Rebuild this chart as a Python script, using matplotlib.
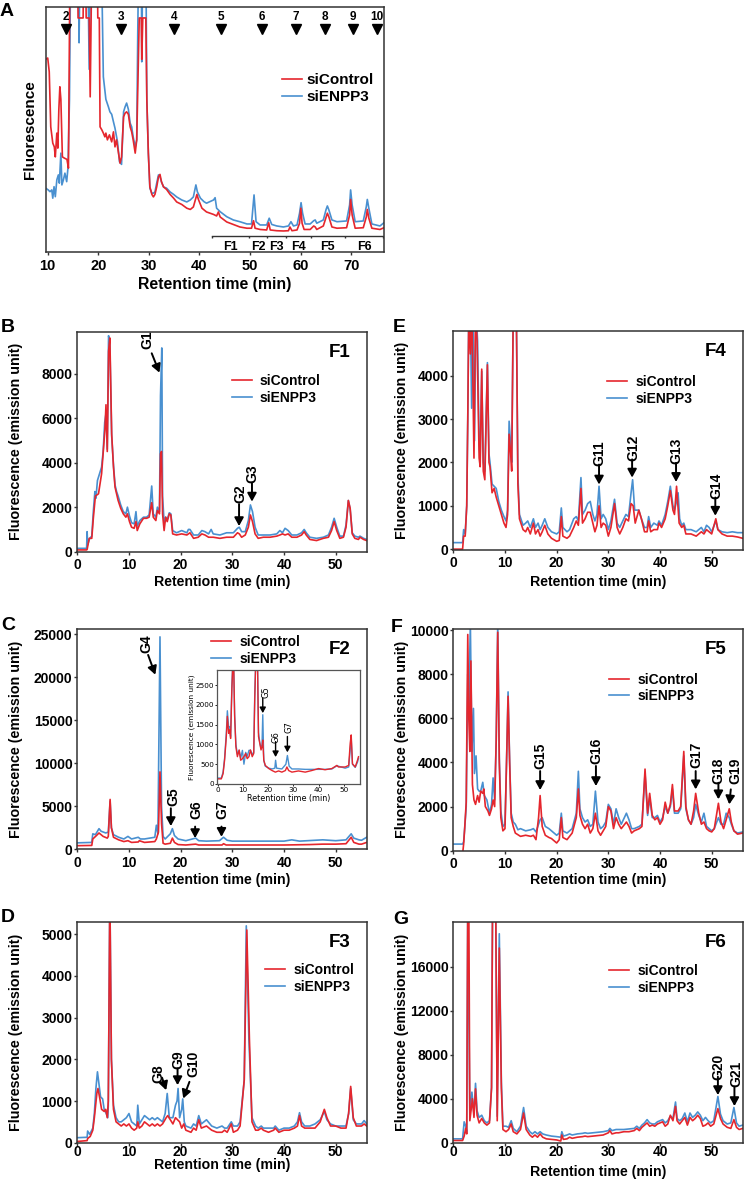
import numpy as np
import matplotlib
matplotlib.use('Agg')
import matplotlib.pyplot as plt

plt.rcParams['font.family'] = ['Liberation Sans', 'DejaVu Sans']
plt.rcParams['font.weight'] = 'bold'

RED = '#e5262d'
BLUE = '#4990d0'

# ---------------- A: whole run (arbitrary fluorescence) ----------------
A_CONTROL = [
    (9.6, 77), (10.0, 77.5), (10.3, 72), (10.6, 50), (11.0, 43.5), (11.3, 42), (11.5, 38),
    (11.8, 47.5), (12.0, 41.5), (12.2, 57), (12.4, 66), (12.6, 61), (12.9, 38), (13.3, 37.5),
    (13.8, 37), (14.1, 33.5), (14.3, 87), (14.4, 120), (15.9, 120), (16.0, 93.5), (17.0, 93.5),
    (17.1, 120), (17.5, 120), (17.6, 93.5), (18.2, 93.5), (18.4, 62), (18.6, 93.5), (18.7, 120),
    (19.8, 120), (19.9, 93.5), (20.2, 93.5), (20.35, 50), (20.7, 48.8), (21.0, 47.5), (21.3, 46),
    (21.5, 47.5), (21.8, 44.8), (22.2, 46.8), (22.65, 44), (23.0, 48), (23.3, 42), (23.6, 44.8),
    (24.0, 39.5), (24.3, 35.5), (24.6, 38), (25.0, 54), (25.3, 55.5), (25.6, 56), (25.95, 55),
    (26.3, 50), (26.6, 48), (26.9, 44.8), (27.3, 39.5), (27.6, 44.8), (27.9, 74), (28.1, 93.5),
    (28.5, 93.5), (28.6, 77), (28.8, 93.5), (29.4, 93.5), (29.6, 60.8), (29.9, 39.5), (30.2, 26),
    (30.6, 23), (30.9, 22), (31.2, 23), (31.55, 26), (31.9, 30), (32.2, 31), (32.5, 28),
    (32.9, 26), (33.5, 25), (34.2, 23), (34.9, 21.5), (35.5, 20), (36.5, 19), (37.5, 17.5),
    (38.2, 17), (38.8, 18), (39.5, 23), (39.8, 21), (40.5, 17.5), (41.4, 16), (42.8, 15),
    (43.4, 14.4), (43.75, 16), (44.1, 14), (45.4, 12), (46.7, 11), (48.0, 10), (49.4, 9.5),
    (50.3, 9.5), (50.7, 12.5), (51.0, 9.5), (52.0, 9), (53.3, 8.8), (53.7, 11.7), (54.0, 8.8),
    (55.3, 8.5), (56.6, 8.4), (57.6, 8.5), (57.9, 10), (58.3, 8.5), (59.3, 8.8), (59.8, 11.5),
    (60.05, 17.5), (60.3, 11.5), (60.7, 9), (61.9, 9), (62.6, 10.4), (62.9, 10), (63.2, 9),
    (64.5, 10.4), (65.05, 14), (65.3, 15.5), (65.6, 14), (66.2, 10), (67.2, 9.5), (69.1, 9.7),
    (69.7, 14.8), (69.9, 21), (70.2, 14.8), (70.8, 9.5), (72.4, 9.7), (73.0, 14), (73.2, 17),
    (73.5, 13.5), (74.1, 9.5), (75.7, 9), (76.5, 9.7)]
A_ENPP3 = [
    (9.6, 25.5), (10.1, 24.8), (10.45, 24.1), (10.8, 24.8), (11.0, 21.5), (11.25, 26.1),
    (11.5, 22.1), (11.8, 28.8), (12.1, 30.8), (12.3, 27.5), (12.6, 39.5), (12.8, 26.8),
    (13.1, 28.8), (13.4, 31.5), (13.75, 28.1), (14.0, 33.5), (14.3, 60.8), (14.55, 120),
    (16.0, 120), (16.2, 83.6), (16.4, 120), (17.9, 120), (18.2, 73), (18.5, 120), (20.6, 120),
    (21.0, 70), (21.5, 61), (22.0, 58), (22.3, 56), (22.65, 55), (23.0, 52), (23.3, 49.5),
    (23.8, 44), (24.2, 36), (24.6, 35), (25.0, 56), (25.3, 58), (25.6, 59.5), (25.95, 57),
    (26.3, 51.5), (26.6, 50), (26.9, 46), (27.3, 42), (27.6, 44.8), (27.8, 87), (28.0, 120),
    (28.5, 120), (28.6, 76), (28.8, 120), (29.4, 120), (29.6, 60.8), (29.9, 39.5), (30.2, 25.5),
    (30.6, 23.5), (30.9, 23.5), (31.2, 24), (31.55, 27.5), (31.9, 30.8), (32.2, 30), (32.5, 28),
    (32.9, 26), (33.5, 25.5), (34.2, 24), (34.9, 23), (35.5, 22), (36.5, 20.8), (37.5, 20),
    (38.2, 20.8), (38.8, 22), (39.3, 26.8), (39.6, 24), (40.2, 21.5), (40.9, 20.1), (41.4, 19.5),
    (42.8, 20.8), (43.1, 21.7), (43.4, 17.5), (44.1, 16.1), (45.4, 14.1), (46.7, 12.8),
    (48.0, 12.1), (49.4, 11.2), (50.3, 11.2), (50.8, 22.8), (51.2, 12.1), (52.0, 10.8),
    (53.3, 10.8), (53.8, 13.5), (54.3, 11), (55.3, 10.4), (56.6, 10), (57.6, 10.4), (58.1, 12.1),
    (58.6, 10.4), (59.3, 10.8), (59.8, 15.5), (60.1, 19.7), (60.4, 15.5), (60.9, 11.2),
    (61.9, 11.2), (62.6, 12.5), (62.9, 12.8), (63.2, 11.5), (64.5, 12.8), (65.05, 17),
    (65.3, 18.4), (65.6, 16.8), (66.2, 12.8), (67.2, 12.1), (69.1, 12.4), (69.7, 18.8),
    (69.9, 24.8), (70.2, 18.8), (70.8, 12.1), (72.4, 12.4), (73.0, 18.1), (73.2, 21),
    (73.5, 17.5), (74.1, 11.2), (75.7, 10.4), (76.5, 11.7)]
A_MARKS = [13.6, 24.4, 35.0, 44.3, 52.3, 59.0, 64.9, 70.4, 75.1]
A_MARK_LABELS = ['2', '3', '4', '5', '6', '7', '8', '9', '10']
A_FRACTION_EDGES = [42.4, 49.9, 53.3, 57.1, 62.0, 68.8, 76.3]
A_FRACTION_LABELS = ['F1', 'F2', 'F3', 'F4', 'F5', 'F6']

# ---------------- B: F1 ----------------
F1_CONTROL = [
    (0, 80), (1.8, 80), (1.9, 100), (2.3, 600), (2.8, 600), (3.1, 1500), (3.5, 2500), (4.1, 2600),
    (4.7, 3500), (5.35, 5500), (5.55, 6600), (5.8, 4500), (6.05, 9000), (6.3, 9600), (6.65, 5300),
    (7.0, 3800), (7.3, 2900), (7.6, 2600), (7.9, 2300), (8.4, 1950), (8.9, 1700), (9.4, 1550),
    (9.7, 1700), (10.1, 1350), (10.5, 1100), (11.0, 1050), (11.35, 1350), (11.6, 950),
    (12.1, 1250), (12.8, 1500), (13.4, 1500), (13.9, 1550), (14.4, 2200), (14.7, 1550),
    (15.2, 1400), (15.5, 1850), (15.9, 1700), (16.1, 4400), (16.3, 4500), (16.5, 1700),
    (16.8, 950), (17.1, 1550), (17.4, 1350), (17.8, 1700), (18.1, 1650), (18.45, 800),
    (19.2, 750), (20.2, 800), (21.2, 750), (21.8, 850), (22.5, 600), (23.4, 650), (24.1, 800),
    (24.7, 750), (25.4, 650), (26.3, 650), (27.6, 600), (28.9, 650), (30.2, 650), (31.0, 850),
    (31.35, 800), (31.8, 650), (32.5, 750), (33.1, 1100), (33.5, 1650), (33.9, 1350), (34.4, 800),
    (35.0, 600), (36.0, 650), (37.3, 650), (38.6, 700), (39.2, 750), (39.7, 800), (40.2, 750),
    (40.8, 800), (41.5, 650), (42.5, 650), (43.4, 750), (43.9, 900), (44.3, 750), (45.0, 550),
    (46.3, 500), (47.6, 600), (48.6, 650), (49.2, 950), (49.7, 1350), (50.2, 950), (50.8, 600),
    (51.5, 650), (52.0, 1100), (52.45, 2300), (52.8, 1950), (53.2, 800), (53.7, 600), (54.4, 550),
    (54.7, 650), (55.4, 550), (56.0, 500)]
F1_ENPP3 = [
    (0, 150), (1.8, 150), (1.9, 900), (2.0, 300), (2.4, 600), (2.8, 700), (3.1, 1800), (3.4, 2700),
    (3.6, 2400), (3.9, 3200), (4.3, 3500), (4.7, 3800), (5.0, 4500), (5.3, 5800), (5.55, 6200),
    (5.8, 4600), (6.05, 9700), (6.3, 9300), (6.65, 5200), (7.0, 3900), (7.3, 3000), (7.6, 2700),
    (7.9, 2500), (8.4, 2100), (8.9, 1800), (9.4, 1700), (9.7, 2000), (10.1, 1600), (10.5, 1300),
    (11.0, 1250), (11.35, 1800), (11.6, 1150), (12.1, 1400), (12.8, 1550), (13.4, 1550),
    (13.9, 1650), (14.4, 2950), (14.7, 1700), (15.2, 1550), (15.5, 2000), (15.9, 1800),
    (16.1, 7000), (16.35, 9150), (16.5, 2500), (16.8, 1300), (17.1, 1550), (17.4, 1450),
    (17.8, 1750), (18.1, 1700), (18.45, 950), (19.2, 850), (20.2, 950), (21.2, 850), (21.5, 1000),
    (21.8, 1000), (22.5, 750), (23.4, 750), (24.1, 950), (24.7, 900), (25.4, 800), (25.9, 1000),
    (26.3, 800), (27.6, 750), (28.9, 850), (30.2, 850), (31.0, 1050), (31.35, 1100), (31.8, 900),
    (32.5, 900), (33.1, 1400), (33.5, 2100), (33.9, 1800), (34.4, 1100), (35.0, 750), (36.0, 750),
    (37.3, 750), (38.6, 800), (39.2, 950), (39.7, 850), (40.2, 1050), (40.8, 950), (41.5, 750),
    (42.5, 750), (43.4, 850), (43.9, 1000), (44.3, 850), (45.0, 650), (46.3, 600), (47.6, 650),
    (48.6, 750), (49.2, 1100), (49.7, 1500), (50.2, 1100), (50.8, 700), (51.5, 700), (52.0, 1200),
    (52.45, 2300), (52.8, 1900), (53.2, 850), (53.7, 700), (54.4, 650), (54.7, 700), (55.4, 600),
    (56.0, 550)]

# ---------------- C: F2 (main + inset) ----------------
F2_CONTROL = [
    (0, 420), (2.8, 450), (3.0, 1200), (3.7, 1600), (4.2, 1900), (5.0, 1500), (5.8, 1300),
    (6.0, 1500), (6.35, 5800), (6.6, 2500), (7.0, 1400), (8.0, 1100), (9.0, 900), (9.8, 1000),
    (10.5, 800), (11.8, 850), (12.0, 1000), (13.0, 800), (14.0, 850), (15.0, 900), (15.3, 1200),
    (15.7, 2000), (16.0, 9000), (16.3, 3000), (16.6, 700), (17.0, 600), (18.0, 700), (18.4, 1300),
    (18.8, 800), (19.5, 550), (21.0, 500), (22.9, 600), (23.5, 500), (25.0, 500), (28.0, 500),
    (28.3, 650), (28.8, 500), (30.0, 500), (35.0, 500), (40.0, 500), (45.0, 550), (47.5, 600),
    (50.0, 600), (52.0, 650), (53.0, 1400), (53.5, 800), (54.5, 600), (55.0, 600), (56.0, 800)]
F2_ENPP3 = [
    (0, 750), (2.8, 800), (3.0, 1800), (3.5, 1700), (4.2, 2400), (4.6, 2100), (5.5, 1900),
    (6.0, 2000), (6.35, 5600), (6.6, 2500), (7.0, 1700), (8.0, 1400), (9.0, 1200), (9.8, 1500),
    (10.5, 1200), (11.8, 1400), (12.2, 1200), (13.0, 1200), (14.0, 1300), (15.0, 1400),
    (15.3, 2800), (15.6, 1800), (16.0, 24700), (16.3, 5000), (16.6, 1500), (17.0, 1200),
    (18.0, 1800), (18.4, 2400), (18.8, 1600), (19.5, 1200), (21.0, 1000), (22.9, 1300),
    (23.5, 1000), (25.0, 950), (27.5, 1000), (28.3, 1400), (29.0, 1050), (30.0, 950), (35.0, 950),
    (40.0, 950), (41.5, 1100), (43.0, 950), (47.5, 1100), (50.0, 1000), (52.0, 1100), (53.0, 1800),
    (53.5, 1300), (54.5, 1100), (55.0, 1050), (56.0, 1400)]
F2_INSET_CONTROL = [
    (0.0, 130), (1.3, 130), (2.0, 260), (2.6, 600), (3.3, 1200), (3.7, 1710), (4.2, 1280),
    (4.6, 1370), (5.0, 1150), (5.5, 2390), (5.9, 3100), (6.2, 3100), (6.6, 1710), (7.1, 940),
    (7.7, 690), (8.4, 860), (9.0, 600), (9.7, 640), (10.3, 690), (11.0, 770), (11.6, 640),
    (12.3, 690), (12.9, 860), (13.6, 690), (14.2, 770), (14.6, 2130), (15.0, 3100), (15.7, 3100),
    (16.1, 1200), (16.6, 1030), (17.1, 860), (17.5, 940), (17.8, 1110), (18.2, 600), (18.8, 470),
    (20.2, 390), (21.5, 340), (22.8, 300), (24.1, 330), (25.4, 300), (26.8, 340), (27.4, 430),
    (28.1, 340), (29.4, 300), (32.0, 330), (34.7, 300), (37.3, 340), (40.0, 390), (42.6, 360),
    (45.3, 390), (47.3, 470), (47.9, 430), (50.6, 430), (52.0, 470), (52.6, 1030), (53.0, 1240),
    (53.5, 510), (54.6, 430), (55.5, 600), (55.9, 690)]
F2_INSET_ENPP3 = [
    (0.0, 150), (1.3, 150), (2.0, 300), (2.6, 650), (3.3, 1300), (3.7, 1850), (4.2, 1450),
    (4.6, 1450), (5.0, 1200), (5.5, 2500), (5.9, 3100), (6.2, 3100), (6.6, 1750), (7.1, 1000),
    (7.7, 750), (8.4, 850), (9.0, 650), (9.7, 850), (10.3, 500), (11.0, 800), (11.6, 700),
    (12.3, 850), (12.9, 850), (13.6, 750), (14.2, 800), (14.6, 2250), (15.0, 3100), (15.7, 3100),
    (16.1, 1300), (16.6, 1050), (17.1, 900), (17.5, 1000), (17.8, 1750), (18.2, 600), (18.8, 450),
    (20.2, 400), (21.5, 380), (22.6, 400), (22.9, 600), (23.3, 400), (25.4, 380), (27.0, 500),
    (27.6, 720), (28.3, 450), (29.4, 380), (32.0, 380), (34.7, 370), (37.3, 370), (40.0, 370),
    (42.6, 370), (45.3, 380), (47.3, 460), (50.6, 400), (52.0, 430), (53.0, 1150), (53.5, 500),
    (54.6, 420), (55.5, 550), (55.9, 650)]

# ---------------- D: F3 ----------------
F3_CONTROL = [
    (0, 30), (1.9, 50), (2.0, 100), (2.5, 150), (3.0, 300), (3.3, 600), (3.8, 1200), (4.0, 1300),
    (4.3, 1100), (4.7, 800), (5.2, 750), (5.5, 800), (5.8, 600), (6.0, 1000), (6.3, 6000),
    (6.6, 2000), (7.0, 800), (7.5, 500), (8.0, 450), (8.5, 400), (9.0, 450), (9.5, 400),
    (10.0, 450), (10.5, 350), (11.0, 300), (11.5, 350), (11.7, 500), (12.0, 350), (12.5, 400),
    (13.0, 500), (13.5, 450), (14.0, 400), (14.5, 450), (15.0, 400), (15.5, 450), (16.0, 400),
    (16.5, 450), (17.2, 600), (17.5, 650), (18.0, 550), (18.5, 450), (19.0, 600), (19.4, 550),
    (19.8, 500), (20.2, 350), (20.6, 450), (21.0, 300), (22.0, 250), (22.5, 350), (23.0, 300),
    (23.5, 550), (24.0, 350), (25.0, 400), (26.0, 300), (27.0, 250), (28.0, 250), (28.5, 300),
    (29.0, 250), (29.8, 450), (30.2, 250), (31.0, 300), (31.5, 400), (32.3, 1500), (32.8, 5100),
    (33.3, 2500), (33.8, 500), (34.5, 300), (35.0, 300), (35.6, 350), (36.0, 300), (37.0, 250),
    (38.0, 300), (38.3, 350), (39.0, 250), (40.0, 300), (41.0, 300), (42.0, 350), (42.6, 400),
    (43.0, 650), (43.4, 400), (44.0, 350), (45.0, 350), (46.0, 350), (47.0, 500), (47.8, 800),
    (48.3, 600), (49.0, 400), (50.0, 400), (51.0, 350), (52.0, 350), (52.5, 700), (52.9, 1350),
    (53.4, 600), (54.0, 400), (55.0, 400), (55.5, 450), (56.0, 400)]
F3_ENPP3 = [
    (0, 120), (1.9, 130), (2.0, 280), (2.4, 200), (3.0, 350), (3.3, 700), (3.6, 1300), (3.9, 1700),
    (4.2, 1400), (4.5, 1100), (4.9, 1050), (5.2, 800), (5.6, 700), (5.9, 600), (6.0, 900),
    (6.3, 6000), (6.6, 2000), (7.0, 900), (7.5, 600), (8.0, 500), (8.5, 500), (9.0, 550),
    (9.5, 600), (10.0, 700), (10.5, 500), (11.0, 450), (11.5, 400), (11.7, 900), (12.0, 450),
    (12.5, 550), (13.0, 650), (13.5, 600), (14.0, 550), (14.5, 600), (15.0, 550), (15.5, 600),
    (16.0, 550), (16.5, 500), (17.0, 700), (17.4, 1180), (17.8, 600), (18.5, 600), (19.0, 900),
    (19.3, 1000), (19.5, 1300), (19.8, 600), (20.2, 800), (20.4, 1050), (20.7, 500), (21.0, 400),
    (22.0, 350), (22.5, 450), (23.0, 400), (23.5, 650), (24.0, 450), (25.0, 550), (26.0, 400),
    (27.0, 350), (28.0, 400), (28.5, 350), (29.0, 350), (29.8, 500), (30.2, 400), (31.0, 400),
    (31.5, 500), (32.3, 1500), (32.7, 5200), (33.2, 2500), (33.8, 600), (34.5, 400), (35.0, 350),
    (35.6, 400), (36.0, 350), (37.0, 350), (38.0, 350), (38.3, 400), (39.0, 300), (40.0, 350),
    (41.0, 350), (42.0, 400), (42.6, 500), (43.0, 720), (43.4, 500), (44.0, 400), (45.0, 400),
    (46.0, 450), (47.0, 550), (47.8, 750), (48.3, 550), (49.0, 450), (50.0, 400), (51.0, 400),
    (52.0, 400), (52.5, 700), (52.9, 1300), (53.4, 550), (54.0, 450), (55.0, 450), (55.5, 530),
    (56.0, 450)]

# ---------------- E: F4 ----------------
F4_CONTROL = [
    (0, 0), (1.8, 0), (2.0, 300), (2.3, 300), (2.6, 1000), (2.8, 3000), (3.0, 5500), (3.3, 4500),
    (3.6, 5500), (4.0, 2100), (4.3, 5500), (4.6, 4800), (5.0, 2100), (5.2, 1900), (5.5, 4150),
    (5.8, 1800), (6.1, 1600), (6.6, 4250), (6.9, 2000), (7.1, 1900), (7.5, 1300), (7.9, 1400),
    (8.3, 1200), (8.8, 1000), (9.3, 800), (9.8, 600), (10.2, 500), (10.5, 800), (10.8, 2650),
    (11.1, 2200), (11.3, 1800), (11.6, 5500), (12.2, 5500), (12.5, 1500), (12.8, 700), (13.5, 450),
    (14.0, 400), (14.4, 500), (14.9, 350), (15.5, 600), (15.9, 350), (16.4, 450), (16.8, 300),
    (17.2, 400), (17.7, 550), (18.3, 350), (19.0, 250), (20.0, 180), (20.5, 200), (20.9, 750),
    (21.2, 300), (22.0, 250), (22.5, 300), (23.3, 500), (23.8, 650), (24.2, 550), (24.7, 1400),
    (25.0, 600), (25.5, 700), (26.0, 850), (26.5, 850), (27.0, 600), (27.4, 400), (27.8, 550),
    (28.2, 1000), (28.6, 500), (29.0, 600), (29.5, 550), (30.0, 300), (30.5, 500), (31.2, 1050),
    (31.7, 500), (32.2, 350), (32.8, 500), (33.4, 700), (33.9, 650), (34.4, 1050), (34.8, 1000),
    (35.2, 600), (35.9, 900), (36.4, 700), (37.0, 400), (37.5, 400), (37.8, 650), (38.2, 400),
    (38.8, 450), (39.5, 450), (39.8, 600), (40.3, 500), (41.0, 700), (41.5, 1000), (42.0, 1350),
    (42.5, 900), (42.8, 800), (43.2, 1450), (43.7, 600), (44.2, 500), (44.6, 550), (45.0, 350),
    (46.0, 350), (47.0, 300), (48.0, 400), (48.5, 350), (49.0, 450), (49.5, 400), (50.0, 350),
    (50.8, 700), (51.2, 450), (52.0, 350), (53.0, 300), (54.0, 300), (55.0, 280), (56.0, 250)]
F4_ENPP3 = [
    (0, 150), (1.8, 150), (2.0, 450), (2.3, 350), (2.6, 1000), (2.8, 3000), (3.0, 5500), (3.3, 5500),
    (3.55, 3250), (3.8, 5500), (4.1, 2500), (4.4, 5500), (4.7, 4800), (5.0, 2400), (5.2, 2100),
    (5.5, 4100), (5.8, 2000), (6.1, 1800), (6.6, 4300), (6.9, 2200), (7.1, 2000), (7.5, 1500),
    (7.9, 1450), (8.3, 1400), (8.8, 1100), (9.3, 900), (9.8, 750), (10.2, 650), (10.5, 900),
    (10.8, 2950), (11.1, 2400), (11.3, 2000), (11.6, 5500), (12.2, 5500), (12.5, 1700),
    (12.8, 800), (13.5, 550), (14.0, 600), (14.4, 650), (14.9, 500), (15.5, 700), (15.9, 500),
    (16.4, 600), (16.8, 450), (17.2, 550), (17.7, 700), (18.3, 500), (19.0, 400), (20.0, 350),
    (20.5, 400), (20.9, 950), (21.2, 500), (22.0, 400), (22.5, 450), (23.3, 700), (23.8, 750),
    (24.2, 650), (24.7, 1650), (25.0, 800), (25.5, 900), (26.0, 1050), (26.5, 1100), (27.0, 800),
    (27.4, 650), (27.8, 800), (28.2, 1450), (28.6, 700), (29.0, 800), (29.5, 700), (30.0, 450),
    (30.5, 650), (31.2, 1150), (31.7, 600), (32.2, 500), (32.8, 650), (33.4, 800), (33.9, 750),
    (34.4, 1300), (34.7, 1600), (35.1, 900), (35.9, 900), (36.4, 700), (37.0, 500), (37.5, 500),
    (37.8, 750), (38.2, 500), (38.8, 600), (39.5, 550), (39.8, 650), (40.3, 550), (41.0, 800),
    (41.5, 1100), (42.0, 1450), (42.5, 1000), (42.8, 900), (43.2, 1100), (43.5, 1300), (43.8, 700),
    (44.2, 550), (44.6, 600), (45.0, 450), (46.0, 450), (47.0, 400), (48.0, 500), (48.5, 400),
    (49.0, 550), (49.5, 500), (50.0, 400), (50.8, 650), (51.2, 450), (52.0, 400), (53.0, 380),
    (54.0, 400), (55.0, 380), (56.0, 380)]

# ---------------- F: F5 ----------------
F5_CONTROL = [
    (0, -150), (1.8, -150), (2.0, 300), (2.2, 1000), (2.5, 2200), (2.8, 9800), (3.0, 6000),
    (3.2, 4500), (3.4, 8600), (3.7, 3000), (4.0, 2300), (4.3, 2100), (4.7, 2500), (5.0, 2200),
    (5.3, 2700), (5.7, 2600), (5.9, 2800), (6.2, 2000), (6.7, 1800), (7.0, 1600), (7.4, 1900),
    (7.7, 2300), (8.0, 2000), (8.3, 5000), (8.6, 9900), (8.9, 4000), (9.2, 1500), (9.6, 900),
    (10.0, 1000), (10.3, 4000), (10.6, 7000), (10.9, 4000), (11.2, 1500), (11.6, 1100),
    (12.0, 800), (13.0, 650), (14.0, 700), (15.0, 650), (15.5, 700), (16.0, 500), (16.5, 1500),
    (16.8, 2500), (17.2, 1100), (17.8, 700), (18.5, 600), (19.0, 550), (19.5, 450), (20.0, 350),
    (20.5, 500), (20.9, 1500), (21.2, 600), (22.0, 500), (23.0, 800), (23.8, 1500), (24.2, 2800),
    (24.5, 1600), (25.0, 1200), (25.5, 1000), (26.0, 1200), (26.5, 800), (27.0, 1000),
    (27.5, 1700), (28.0, 900), (28.5, 700), (29.0, 900), (29.5, 1100), (30.0, 2000), (30.5, 1800),
    (31.0, 1000), (31.5, 1500), (32.0, 1200), (32.5, 1000), (33.5, 1300), (34.0, 1100),
    (34.5, 800), (35.0, 900), (36.0, 1000), (36.5, 1100), (37.1, 3700), (37.6, 1700), (38.0, 2600),
    (38.5, 1600), (39.0, 1400), (39.5, 1500), (40.0, 1200), (40.5, 1400), (41.0, 2200),
    (41.5, 1700), (42.0, 2100), (42.4, 3000), (42.8, 1800), (43.5, 1800), (44.0, 2000),
    (44.6, 4500), (45.0, 2000), (45.5, 1400), (46.0, 1200), (46.5, 1800), (46.9, 2600),
    (47.5, 1700), (48.0, 1200), (48.5, 1300), (49.0, 1000), (49.5, 900), (50.0, 850), (50.5, 1000),
    (51.3, 2150), (51.8, 1300), (52.3, 1000), (52.8, 1400), (53.4, 1900), (53.8, 1300),
    (54.3, 900), (55.0, 750), (56.0, 800)]
F5_ENPP3 = [
    (0, 300), (1.8, 300), (2.0, 400), (2.2, 1000), (2.5, 2000), (2.8, 8000), (3.0, 6500),
    (3.3, 10300), (3.6, 4500), (3.9, 6450), (4.1, 3500), (4.4, 4300), (4.7, 2800), (5.0, 2700),
    (5.3, 2700), (5.7, 3100), (6.0, 2500), (6.5, 2300), (7.0, 1700), (7.4, 2100), (7.7, 3300),
    (8.0, 2300), (8.3, 5000), (8.6, 10300), (8.9, 4200), (9.2, 1800), (9.6, 1100), (10.0, 1200),
    (10.3, 4000), (10.6, 7200), (10.9, 4100), (11.2, 1700), (11.6, 1300), (12.0, 1200),
    (12.5, 950), (13.0, 1000), (14.0, 900), (15.0, 950), (15.5, 1000), (16.0, 850), (16.5, 1200),
    (16.8, 1400), (17.2, 1500), (17.8, 1100), (18.5, 1000), (19.0, 900), (19.5, 800), (20.0, 700),
    (20.5, 800), (20.9, 1700), (21.2, 900), (22.0, 800), (23.0, 1000), (23.8, 1700), (24.2, 3600),
    (24.5, 1900), (25.0, 1500), (25.5, 1300), (26.0, 1400), (26.5, 1100), (27.0, 1200),
    (27.5, 2700), (28.0, 1300), (28.5, 1000), (29.0, 1100), (29.5, 1300), (30.0, 2100),
    (30.5, 1900), (31.0, 1200), (31.5, 1900), (32.0, 1500), (32.5, 1200), (33.5, 1700),
    (34.0, 1400), (34.5, 1000), (35.0, 1000), (36.0, 1100), (36.5, 1200), (37.1, 3500),
    (37.6, 1600), (38.0, 2400), (38.5, 1500), (39.0, 1500), (39.5, 1600), (40.0, 1300),
    (40.5, 1500), (41.0, 2000), (41.5, 1700), (42.0, 2000), (42.4, 2800), (42.8, 1700),
    (43.5, 1700), (44.0, 1900), (44.6, 4300), (45.0, 1900), (45.5, 1400), (46.0, 1200),
    (46.5, 1500), (46.9, 2100), (47.5, 1600), (48.0, 1300), (48.5, 1700), (49.0, 1100),
    (49.5, 1000), (50.0, 900), (50.5, 1000), (51.3, 1500), (51.8, 1200), (52.3, 1200),
    (52.8, 1700), (53.4, 1500), (53.8, 1200), (54.3, 900), (55.0, 800), (56.0, 850)]

# ---------------- G: F6 ----------------
F6_CONTROL = [
    (0, 200), (1.8, 200), (2.1, 600), (2.4, 1300), (2.6, 800), (2.8, 22000), (3.0, 22000),
    (3.2, 2000), (3.7, 4000), (4.0, 2300), (4.3, 4900), (4.6, 2500), (5.0, 1800), (5.5, 2200),
    (6.0, 1800), (6.5, 1600), (7.0, 1800), (7.4, 5000), (7.6, 22000), (8.2, 22000), (8.5, 2000),
    (8.9, 17700), (9.3, 5000), (9.6, 1200), (10.2, 1000), (10.7, 1200), (11.2, 1700), (11.6, 1000),
    (12.3, 800), (13.0, 1200), (13.6, 2700), (14.1, 1200), (14.8, 700), (15.3, 500), (15.8, 700),
    (16.3, 500), (16.8, 800), (17.3, 500), (18.0, 350), (19.0, 300), (20.0, 250), (20.8, 150),
    (21.0, 700), (21.3, 300), (22.0, 350), (22.5, 500), (23.0, 400), (24.0, 500), (25.0, 550),
    (25.5, 600), (26.0, 550), (27.0, 600), (28.0, 650), (29.0, 700), (30.0, 900), (30.3, 1100),
    (30.7, 800), (31.5, 900), (32.0, 900), (33.0, 1000), (34.0, 1000), (35.0, 1100), (35.5, 1300),
    (36.0, 1100), (36.5, 1400), (37.0, 1600), (37.5, 1800), (38.0, 1500), (38.5, 1600),
    (39.0, 1500), (39.5, 1700), (40.0, 1800), (40.5, 1900), (41.0, 1500), (41.5, 1700),
    (42.0, 2500), (42.5, 2000), (43.0, 3300), (43.3, 2000), (43.8, 1700), (44.3, 2000),
    (44.8, 2300), (45.3, 1600), (45.8, 2300), (46.3, 2000), (46.8, 2200), (47.3, 2500),
    (47.8, 2200), (48.3, 1500), (48.8, 1600), (49.3, 1800), (49.8, 1500), (50.4, 1700),
    (51.2, 3100), (51.7, 2200), (52.2, 1700), (53.0, 1400), (53.7, 1300), (54.3, 2100),
    (54.8, 1400), (55.3, 1200), (56.0, 1300)]
F6_ENPP3 = [
    (0, 350), (1.8, 350), (2.1, 1900), (2.4, 1500), (2.6, 1000), (2.8, 22000), (3.2, 2500),
    (3.6, 4600), (4.0, 2600), (4.3, 5400), (4.6, 2900), (5.0, 2300), (5.5, 2500), (6.0, 2000),
    (6.5, 1800), (7.0, 2000), (7.4, 5000), (7.6, 22000), (8.2, 22000), (8.5, 2400), (8.9, 19000),
    (9.3, 5500), (9.6, 1500), (10.2, 1500), (10.7, 1400), (11.2, 2000), (11.6, 1300), (12.3, 1000),
    (13.0, 1500), (13.6, 3200), (14.1, 1500), (14.8, 1000), (15.3, 800), (15.8, 1000), (16.3, 800),
    (16.8, 1000), (17.3, 800), (18.0, 700), (19.0, 600), (20.0, 550), (20.8, 500), (21.0, 1000),
    (21.3, 600), (22.0, 700), (22.5, 800), (23.0, 700), (24.0, 800), (25.0, 850), (25.5, 900),
    (26.0, 850), (27.0, 900), (28.0, 950), (29.0, 1000), (30.0, 1100), (30.3, 1300), (30.7, 1100),
    (31.5, 1200), (32.0, 1200), (33.0, 1200), (34.0, 1250), (35.0, 1300), (35.5, 1500),
    (36.0, 1300), (36.5, 1600), (37.0, 1800), (37.5, 2100), (38.0, 1800), (38.5, 1700),
    (39.0, 1700), (39.5, 1900), (40.0, 2000), (40.5, 2100), (41.0, 1800), (41.5, 2000),
    (42.0, 2400), (42.5, 2200), (43.0, 3700), (43.3, 2200), (43.8, 2000), (44.3, 2200),
    (44.8, 2700), (45.3, 1900), (45.8, 2700), (46.3, 2300), (46.8, 2500), (47.3, 2800),
    (47.8, 2500), (48.3, 2000), (48.8, 2300), (49.3, 2000), (49.8, 1800), (50.4, 2000),
    (51.2, 4200), (51.7, 2600), (52.2, 2000), (53.0, 1700), (53.7, 1800), (54.3, 3200),
    (54.8, 1800), (55.3, 1500), (56.0, 1600)]

# peak call-outs: label, label position, arrow tail, arrow tip
F1_PEAKS = [('G1', (13.6, 9540), (14.4, 8910), (15.9, 8040)),
            ('G2', (31.5, 2590), (31.3, 2140), (31.3, 1150)),
            ('G3', (33.8, 3520), (33.8, 3070), (33.8, 2250))]
F2_PEAKS = [('G4', (13.3, 23900), (13.7, 22600), (15.1, 20300)),
            ('G5', (18.6, 6100), (18.1, 4770), (18.1, 2700)),
            ('G6', (23.1, 4550), (22.8, 2640), (22.8, 1300)),
            ('G7', (28.1, 4550), (27.9, 2640), (27.9, 1450))]
F2_INSET_PEAKS = [('G5', (18.9, 2330), (17.8, 2170), (17.8, 1790)),
                  ('G6', (23.1, 1180), (22.9, 1070), (22.9, 680)),
                  ('G7', (28.3, 1450), (27.6, 1200), (27.6, 800))]
F3_PEAKS = [('G8', (15.7, 1650), (16.4, 1560), (17.2, 1260)),
            ('G9', (19.5, 1980), (19.4, 1780), (19.4, 1380)),
            ('G10', (22.5, 1900), (21.7, 1460), (20.5, 1060))]
F4_PEAKS = [('G11', (28.3, 2220), (28.2, 1950), (28.2, 1490)),
            ('G12', (34.8, 2340), (34.6, 2070), (34.6, 1650)),
            ('G13', (43.2, 2260), (43.1, 1990), (43.1, 1550)),
            ('G14', (51.0, 1455), (50.7, 1190), (50.7, 770))]
F5_PEAKS = [('G15', (16.8, 4290), (16.8, 3610), (16.8, 2750)),
            ('G16', (27.7, 4510), (27.6, 3840), (27.6, 2930)),
            ('G17', (47.1, 4360), (46.9, 3610), (46.9, 2780)),
            ('G18', (51.3, 3610), (51.3, 3080), (51.3, 2330)),
            ('G19', (54.5, 3610), (53.7, 2780), (53.4, 2100))]
F6_PEAKS = [('G20', (51.3, 6910), (51.2, 6000), (51.2, 4330)),
            ('G21', (54.7, 6300), (54.4, 5090), (54.4, 3330))]

LABELS = ['siControl', 'siENPP3']
XLABEL = 'Retention time (min)'
YLABEL = 'Fluorescence (emission unit)'


def plot_pair(ax, control, enpp3, lw=1.2):
    t, v = np.array(enpp3, dtype=float).T
    hb, = ax.plot(t, v, color=BLUE, lw=lw)
    t, v = np.array(control, dtype=float).T
    hr, = ax.plot(t, v, color=RED, lw=lw)
    return hr, hb


def style_spines(ax, lw=1.1, color='#333333'):
    for s in ax.spines.values():
        s.set_linewidth(lw)
        s.set_color(color)


def add_peaks(ax, peaks, size=10, weight='bold', lw=1.4, scale=9):
    for label, txt, tail, tip in peaks:
        ax.text(txt[0], txt[1], label, rotation=90, ha='center', va='center',
                fontsize=size, fontweight=weight)
        ax.annotate('', xy=tip, xytext=tail,
                    arrowprops=dict(arrowstyle='-|>,head_length=0.55,head_width=0.3',
                                    color='black', lw=lw, shrinkA=0, shrinkB=0,
                                    mutation_scale=scale))


def fraction_panel(fig, rect, control, enpp3, ylim, yticks, name, legend_xy, peaks,
                   tick_pad=2.0, xlabel_y=-0.105, ylabel_x=-0.189):
    ax = fig.add_axes(rect)
    hr, hb = plot_pair(ax, control, enpp3)
    ax.set_xlim(0, 56)
    ax.set_ylim(*ylim)
    ax.set_xticks([0, 10, 20, 30, 40, 50])
    ax.set_yticks(yticks)
    style_spines(ax)
    ax.tick_params(axis='both', labelsize=10, length=2.5, width=1, color='#333333')
    ax.tick_params(axis='x', pad=tick_pad)
    ax.tick_params(axis='y', pad=1)
    ax.set_xlabel(XLABEL, fontsize=10.2, fontweight='bold')
    ax.set_ylabel(YLABEL, fontsize=10.3, fontweight='bold')
    ax.xaxis.set_label_coords(0.5, xlabel_y)
    ax.yaxis.set_label_coords(ylabel_x, 0.5)
    ax.text(0.905, 0.907, name, transform=ax.transAxes, ha='center', va='center',
            fontsize=13.5, fontweight='bold')
    ax.legend([hr, hb], LABELS, loc='center left', bbox_to_anchor=legend_xy,
              frameon=False, borderpad=0, borderaxespad=0, handlelength=1.45,
              handletextpad=0.6, labelspacing=0.2, prop={'size': 10, 'weight': 'bold'})
    add_peaks(ax, peaks)
    return ax


W, H = 745, 1181
fig = plt.figure(figsize=(W / 100, H / 100), dpi=100)


def rect(left, top, right, bottom):
    return [left / W, 1 - bottom / H, (right - left) / W, (bottom - top) / H]


# ---- panel A ----
axA = fig.add_axes(rect(45.7, 6.7, 384, 252))
hr, hb = plot_pair(axA, A_CONTROL, A_ENPP3)
axA.set_xlim(9.6, 76.5)
axA.set_ylim(0, 98)
axA.set_xticks([10, 20, 30, 40, 50, 60, 70])
axA.set_yticks([])
style_spines(axA)
axA.tick_params(axis='x', labelsize=10.5, length=2.5, width=1, pad=2.3, color='#333333')
axA.set_xlabel(XLABEL, fontsize=11.4, fontweight='bold')
axA.set_ylabel('Fluorescence', fontsize=11, fontweight='bold')
axA.xaxis.set_label_coords(0.5, -0.1)
axA.yaxis.set_label_coords(-0.027, 0.5)
axA.plot(A_MARKS, [89] * len(A_MARKS), linestyle='none', marker='v', color='black',
         markersize=7)
for t, lab in zip(A_MARKS, A_MARK_LABELS):
    axA.text(t, 94, lab, ha='center', va='center', fontsize=8.5, fontweight='bold')
axA.plot([A_FRACTION_EDGES[0], A_FRACTION_EDGES[-1]], [6.4, 6.4], color='#333333', lw=1)
axA.vlines(A_FRACTION_EDGES, 5.4, 6.4, color='#333333', lw=1)
for i, lab in enumerate(A_FRACTION_LABELS):
    mid = (A_FRACTION_EDGES[i] + A_FRACTION_EDGES[i + 1]) / 2
    axA.text(mid, 2.0, lab, ha='center', va='center', fontsize=9, fontweight='bold')
axA.legend([hr, hb], LABELS, loc='center left', bbox_to_anchor=(0.698, 0.667),
           frameon=False, borderpad=0, borderaxespad=0, handlelength=1.3,
           handletextpad=0.3, labelspacing=0.2, prop={'size': 11, 'weight': 'bold'})

# ---- panels B-G ----
fraction_panel(fig, rect(77.3, 331.7, 366.7, 551.7), F1_CONTROL, F1_ENPP3, (0, 9880),
               [0, 2000, 4000, 6000, 8000], 'F1', (0.533, 0.7385), F1_PEAKS)
fraction_panel(fig, rect(77.3, 629.3, 366.7, 849.3), F2_CONTROL, F2_ENPP3, (0, 25580),
               [0, 5000, 10000, 15000, 20000, 25000], 'F2', (0.461, 0.904), F2_PEAKS,
               xlabel_y=-0.109)
fraction_panel(fig, rect(77.3, 921.7, 366.7, 1142.7), F3_CONTROL, F3_ENPP3, (0, 5300),
               [0, 1000, 2000, 3000, 4000, 5000], 'F3', (0.649, 0.743), F3_PEAKS,
               tick_pad=-1.2, xlabel_y=-0.067)
fraction_panel(fig, rect(453.3, 331, 742.7, 550), F4_CONTROL, F4_ENPP3, (-20, 5030),
               [0, 1000, 2000, 3000, 4000], 'F4', (0.532, 0.73), F4_PEAKS,
               xlabel_y=-0.113, ylabel_x=-0.152)
fraction_panel(fig, rect(453.3, 629, 742.7, 850.7), F5_CONTROL, F5_ENPP3, (0, 10050),
               [0, 2000, 4000, 6000, 8000, 10000], 'F5', (0.539, 0.734), F5_PEAKS,
               xlabel_y=-0.101, ylabel_x=-0.152)
fraction_panel(fig, rect(453.3, 921.7, 742.7, 1142.7), F6_CONTROL, F6_ENPP3, (0, 20100),
               [0, 4000, 8000, 12000, 16000], 'F6', (0.539, 0.738), F6_PEAKS,
               tick_pad=-1.2, xlabel_y=-0.100, ylabel_x=-0.152)

# ---- inset of panel C ----
axI = fig.add_axes(rect(217.3, 670, 360, 784))
plot_pair(axI, F2_INSET_CONTROL, F2_INSET_ENPP3, lw=1.0)
axI.set_xlim(-0.3, 56.5)
axI.set_ylim(0, 2880)
axI.set_xticks([0, 10, 20, 30, 40, 50])
axI.set_yticks([0, 500, 1000, 1500, 2000, 2500])
style_spines(axI, lw=0.9, color='#555555')
axI.tick_params(labelsize=5.2, length=1.5, width=0.6, pad=0.8)
for lab in axI.get_xticklabels() + axI.get_yticklabels():
    lab.set_fontweight('normal')
    lab.set_family('DejaVu Sans')
axI.set_xlabel(XLABEL, fontsize=5.8, fontweight='normal', family='DejaVu Sans', labelpad=0.5)
axI.set_ylabel(YLABEL, fontsize=5.3, fontweight='normal', family='DejaVu Sans', labelpad=0.5)
add_peaks(axI, F2_INSET_PEAKS, size=6, weight='normal', lw=1.0, scale=6)
for t in axI.texts:
    t.set_family('DejaVu Sans')

# ---- panel letters ----
for letter, x, y in [('A', 7, 11), ('B', 8, 327), ('C', 8, 626), ('D', 8, 917),
                     ('E', 399, 327), ('F', 397, 627), ('G', 401, 919)]:
    fig.text(x / W, 1 - y / H, letter, ha='center', va='center', fontsize=14,
             fontweight='bold')

fig.savefig('out.png', dpi=100)
